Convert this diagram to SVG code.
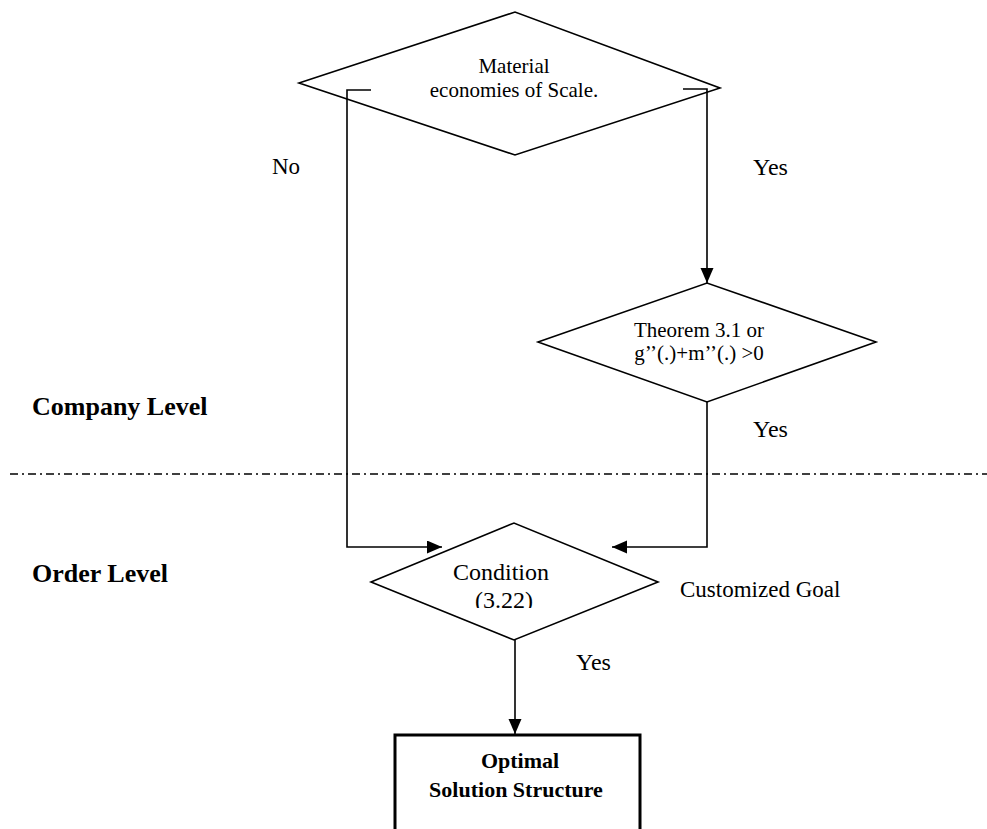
<svg xmlns="http://www.w3.org/2000/svg" width="987" height="829" viewBox="0 0 987 829">
<style>
  .shape { fill: #fff; stroke: #000; stroke-width: 1.6; }
  .conn { fill: none; stroke: #000; stroke-width: 1.6; }
  .t { font-family: "Liberation Serif", "Times New Roman", serif; fill: #000; }
  .b { font-weight: bold; }
</style>
<defs>
  <marker id="arr" markerUnits="userSpaceOnUse" markerWidth="16" markerHeight="14" refX="15" refY="6.5" orient="auto">
    <path d="M0,0 L15,6.5 L0,13 Z" fill="#000"/>
  </marker>
  <clipPath id="clipc"><rect x="300" y="500" width="400" height="108"/></clipPath>
</defs>
<rect width="987" height="829" fill="#fff"/>

<g id="separator">
  <line x1="10" y1="474" x2="987" y2="474" stroke="#000" stroke-width="1.6" stroke-dasharray="8 4 2 4"/>
</g>

<g id="connectors">
  <path class="conn" d="M371,90 H347 V547 H442" marker-end="url(#arr)"/>
  <path class="conn" d="M683,89 H707 V283" marker-end="url(#arr)"/>
  <path class="conn" d="M707,402 V547 H612" marker-end="url(#arr)"/>
  <path class="conn" d="M515,640 V734" marker-end="url(#arr)"/>
</g>

<g id="material">
  <polygon class="shape" style="fill:none" points="299,83 515,12 720,88 515,155"/>
  <text class="t" x="514" y="73" font-size="21" text-anchor="middle">Material</text>
  <text class="t" x="514" y="97" font-size="21" text-anchor="middle">economies of Scale.</text>
</g>

<g id="theorem">
  <polygon class="shape" points="538,342 707,283 876,342 707,402"/>
  <text class="t" x="699" y="337" font-size="21" text-anchor="middle">Theorem 3.1 or</text>
  <text class="t" x="699" y="360" font-size="21" text-anchor="middle">g’’(.)+m’’(.) &gt;0</text>
</g>

<g id="condition">
  <polygon class="shape" points="371,582 514,523 658,582 514,640"/>
  <text class="t" x="453" y="580" font-size="24">Condition</text>
  <text class="t" x="475" y="608" font-size="24" clip-path="url(#clipc)">(3.22)</text>
</g>

<g id="optimal">
  <rect x="395" y="735" width="245" height="110" fill="#fff" stroke="#000" stroke-width="3"/>
  <text class="t b" x="520" y="768" font-size="22" text-anchor="middle">Optimal</text>
  <text class="t b" x="516" y="797" font-size="22" text-anchor="middle">Solution Structure</text>
</g>

<g id="labels">
  <text class="t" x="272" y="174" font-size="23">No</text>
  <text class="t" x="753" y="175" font-size="24">Yes</text>
  <text class="t" x="753" y="437" font-size="24">Yes</text>
  <text class="t" x="576" y="670" font-size="24">Yes</text>
  <text class="t" x="680" y="597" font-size="23">Customized Goal</text>
  <text class="t b" x="32" y="415" font-size="26">Company Level</text>
  <text class="t b" x="32" y="582" font-size="26">Order Level</text>
</g>
</svg>
